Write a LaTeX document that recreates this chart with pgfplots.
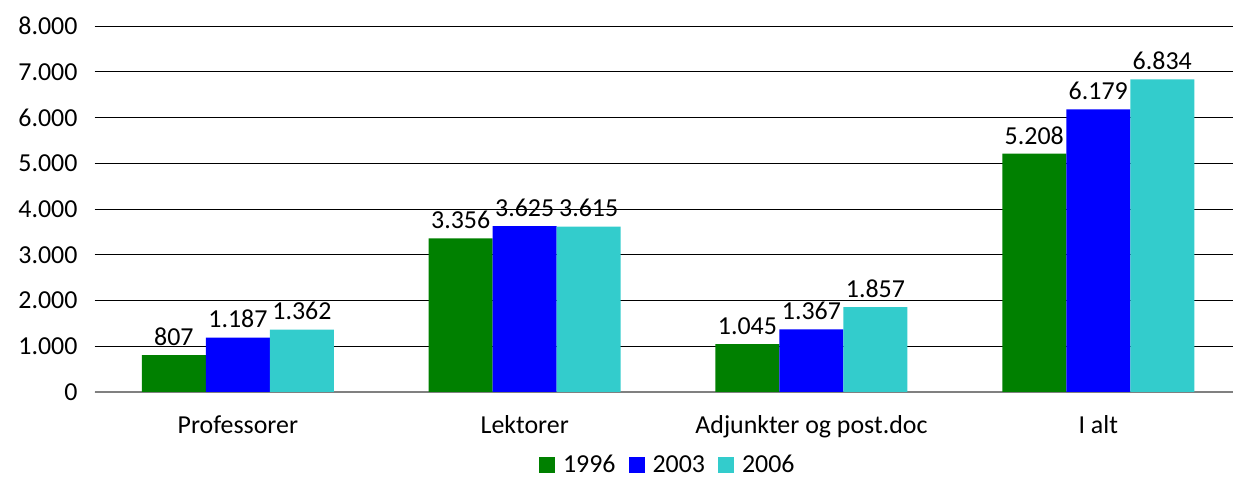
\documentclass[border=0pt]{standalone}
\usepackage{pgfplots}
\pgfplotsset{compat=1.18}
\usepackage{fontspec}
\setmainfont{Carlito}
\definecolor{cgreen}{RGB}{0,128,0}
\definecolor{cblue}{RGB}{0,0,255}
\definecolor{ccyan}{RGB}{51,204,204}
\begin{document}
\begin{tikzpicture}[x=1bp,y=1bp]
\useasboundingbox (0,0) rectangle (1233,479);
\begin{axis}[
  at={(94.5bp,87bp)}, anchor=south west,
  scale only axis, width=1138.5bp, height=366bp,
  font=\fontsize{26}{31}\selectfont,
  ybar=0pt, bar width=64bp,
  xmin=-0.5, xmax=3.47, ymin=0, ymax=8000,
  xtick={0,1,2,3},
  xticklabels={Professorer,Lektorer,Adjunkter og post.doc,I alt},
  ytick={0,1000,...,8000},
  axis y line*=left, axis x line*=bottom,
  y axis line style={draw=none},
  x axis line style={draw=gray, line width=1.2bp, -},
  ymajorgrids, grid style={black, line width=0.8bp},
  major tick length=0pt,
  xticklabel style={yshift=-20bp},
  yticklabel style={xshift=-13.5bp},
  /pgf/number format/.cd, fixed, 1000 sep={.}, assume math mode=true,
  /pgfplots/.cd,
  scaled y ticks=false,
  nodes near coords,
  every node near coord/.append style={yshift=6bp, /pgf/number format/1000 sep={.}, /pgf/number format/assume math mode=true},
  legend columns=3,
  legend style={at={(0.5,0)}, anchor=center, xshift=4bp, yshift=-73bp, draw=none, inner sep=0pt,
    /tikz/every odd column/.append style={column sep=6bp},
    /tikz/every even column/.append style={column sep=11bp}},
  legend image code/.code={\fill[#1, draw=none] (0bp,-8bp) rectangle (16bp,8bp);},
]
\addplot[fill=cgreen, draw=none] coordinates {(0,807) (1,3356) (2,1045) (3,5208)};
\addplot[fill=cblue, draw=none] coordinates {(0,1187) (1,3625) (2,1367) (3,6179)};
\addplot[fill=ccyan, draw=none] coordinates {(0,1362) (1,3615) (2,1857) (3,6834)};
\legend{1996,2003,2006}
\end{axis}
\end{tikzpicture}
\end{document}
